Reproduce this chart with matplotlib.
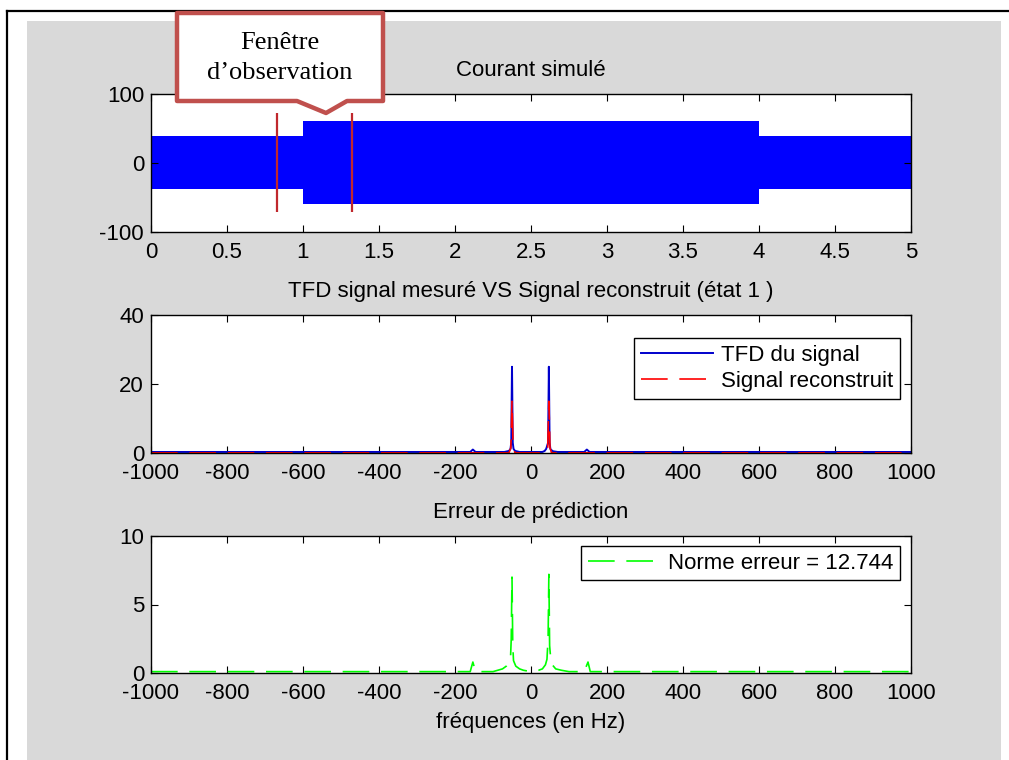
import numpy as np
import matplotlib
matplotlib.use("Agg")
from matplotlib import pyplot as plt
from matplotlib.patches import Rectangle, Polygon
from matplotlib.lines import Line2D

plt.rcParams["font.family"] = ["Liberation Sans", "DejaVu Sans"]
plt.rcParams["axes.unicode_minus"] = False

# courant simule : enveloppe (paliers)
t_steps = [0, 1, 4, 5]
i_upper = [39, 61, 39, 39]
i_lower = [-37, -59, -37, -37]
obs_window = [0.83, 1.32]

# TFD du signal mesure
f_tfd = [-1000, -160, -153, -146, -70, -58, -54, -52, -50, -48, -46, -42, -30,
         30, 36, 40, 45, 47, 49, 51, 53, 58, 70, 140, 147, 154, 1000]
m_tfd = [0.3, 0.3, 1.0, 0.3, 0.3, 0.6, 1.2, 3, 25, 3, 1.2, 0.6, 0.3,
         0.3, 0.6, 1.2, 3, 25, 3, 1.2, 0.9, 0.5, 0.3, 0.3, 1.0, 0.3, 0.3]

# signal reconstruit
f_rec = [-1000, -58, -53, -50, -47, -42, 40, 44, 47, 50, 54, 1000]
m_rec = [0.05, 0.05, 1.5, 15, 1.5, 0.05, 0.05, 1.5, 15, 1.5, 0.05, 0.05]

# erreur de prediction
f_err = [-1000, -160, -153, -146, -100, -75, -65, -58, -54, -52, -50, -48, -46,
         -40, -30, -20, 0, 20, 30, 38, 42, 45, 47, 49, 52, 56, 65, 80, 100,
         140, 150, 156, 200, 1000]
m_err = [0.1, 0.1, 0.8, 0.1, 0.1, 0.3, 0.5, 0.9, 1.0, 2.5, 7.0, 2.0, 0.9,
         0.5, 0.3, 0.2, 0.1, 0.2, 0.3, 0.6, 1.0, 2.5, 7.2, 2.0, 1.0, 0.6, 0.3,
         0.2, 0.1, 0.1, 0.8, 0.1, 0.1, 0.1]
err_norm = 12.744

W, H = 1009, 760
FS = 16
DASH = (0, (16, 7))
fig = plt.figure(figsize=(W / 100, H / 100), dpi=100, facecolor="white")


def px(x, y):
    return x / W, 1 - y / H


# fond gris + cadre
fig.patches.append(Rectangle(px(27, 760), (1001 - 27) / W, (760 - 21) / H,
                             transform=fig.transFigure, facecolor="#D9D9D9",
                             edgecolor="none", zorder=-10))
fig.lines.append(Line2D([7 / W, 7 / W], [0, 1 - 11 / H], transform=fig.transFigure,
                        color="black", lw=1.6, zorder=-5))
fig.lines.append(Line2D([7 / W, 1], [1 - 11 / H, 1 - 11 / H], transform=fig.transFigure,
                        color="black", lw=1.6, zorder=-5))

left, width = 151 / W, 760 / W
ax1 = fig.add_axes([left, 1 - 232 / H, width, 138 / H])
ax2 = fig.add_axes([left, 1 - 453 / H, width, 138 / H])
ax3 = fig.add_axes([left, 1 - 673 / H, width, 137 / H])

for ax in (ax1, ax2, ax3):
    ax.tick_params(direction="in", top=True, right=True, length=5, width=0.8,
                   labelsize=FS)
    ax.tick_params(axis="x", pad=7)
    ax.tick_params(axis="y", pad=5)
    for s in ax.spines.values():
        s.set_linewidth(1.0)

leg_kw = dict(loc="upper right", borderaxespad=0, fontsize=FS, fancybox=False,
              edgecolor="black", framealpha=1, handlelength=3.25,
              handletextpad=0.35, borderpad=0.3, labelspacing=0.25)

# 1) courant simule
ax1.fill_between(t_steps, i_lower, i_upper, step="post", color="#0000FF", lw=0)
ax1.vlines(obs_window, -71, 72, color="#C0282D", lw=1.6)
ax1.set_xlim(0, 5)
ax1.set_ylim(-100, 100)
ax1.set_xticks(np.arange(0, 5.01, 0.5))
ax1.set_xticklabels(["0", "0.5", "1", "1.5", "2", "2.5", "3", "3.5", "4", "4.5", "5"])
ax1.set_yticks([-100, 0, 100])
ax1.set_title("Courant simulé", fontsize=FS, pad=13)

# 2) TFD vs reconstruit
ax2.plot(f_tfd, m_tfd, color="#0000CC", lw=1.4, label="TFD du signal")
ax2.plot(f_rec, m_rec, color="#FF0000", lw=1.2, ls=DASH, label="Signal reconstruit")
ax2.set_xlim(-1000, 1000)
ax2.set_ylim(0, 40)
ax2.set_xticks(np.arange(-1000, 1001, 200))
ax2.set_yticks([0, 20, 40])
ax2.set_title("TFD signal mesuré VS Signal reconstruit (état 1 )", fontsize=FS, pad=13)
ax2.legend(bbox_to_anchor=(0.9855, 0.833), **leg_kw)

# 3) erreur
ax3.plot(f_err, m_err, color="#00FF00", lw=1.2, ls=DASH,
         label="Norme erreur = {:.3f}".format(err_norm))
ax3.set_xlim(-1000, 1000)
ax3.set_ylim(0, 10)
ax3.set_xticks(np.arange(-1000, 1001, 200))
ax3.set_yticks([0, 5, 10])
ax3.set_title("Erreur de prédiction", fontsize=FS, pad=13)
ax3.set_xlabel("fréquences (en Hz)", fontsize=FS, labelpad=6)
ax3.legend(bbox_to_anchor=(0.9855, 0.927), **leg_kw)

# bulle "Fenetre d'observation"
pts = [(177, 13), (383, 13), (383, 101), (347, 101), (326, 113), (297, 101), (177, 101)]
fig.patches.append(Polygon([px(x, y) for x, y in pts], closed=True,
                           transform=fig.transFigure, facecolor="white",
                           edgecolor="#C0504D", lw=3.2, joinstyle="round", zorder=10))
fig.text(*px(280, 43), "Fenêtre", ha="center", va="center", fontsize=19,
         family=["Liberation Serif", "DejaVu Serif"], zorder=11)
fig.text(*px(280, 73), "d\u2019observation", ha="center", va="center", fontsize=19,
         family=["Liberation Serif", "DejaVu Serif"], zorder=11)

fig.savefig("out.png", dpi=100, facecolor="white")
